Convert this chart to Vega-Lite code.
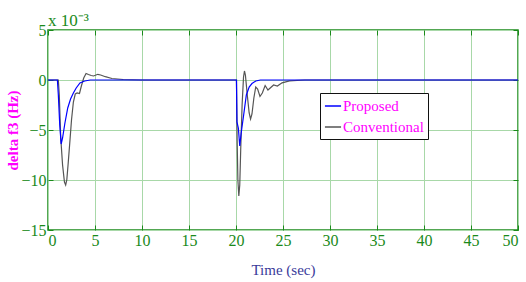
{
  "$schema": "https://vega.github.io/schema/vega-lite/v6.json",
  "width": 470,
  "height": 200,
  "autosize": "none",
  "padding": {"left": 48, "top": 30, "right": 8, "bottom": 52},
  "background": "white",
  "title": {"text": "x 10⁻³", "anchor": "start", "frame": "group", "font": "Liberation Serif", "fontSize": 17, "fontWeight": "normal", "color": "#1a8a1a", "offset": -8},
  "config": {
    "view": {"stroke": "#1a8a1a", "strokeWidth": 1.5},
    "axis": {"labelFont": "Liberation Serif", "labelFontSize": 16, "labelColor": "#1a8a1a", "titleFont": "Liberation Serif", "gridColor": "#a8d8a8", "gridOpacity": 1, "gridWidth": 1, "domain": false, "tickColor": "#1a8a1a", "tickSize": -5, "tickWidth": 1}
  },
  "data": {"values": [
    {"t": 0, "v": 0, "s": "Proposed"},
    {"t": 1.0, "v": 0, "s": "Proposed"},
    {"t": 1.1, "v": -1.5, "s": "Proposed"},
    {"t": 1.25, "v": -4.5, "s": "Proposed"},
    {"t": 1.4, "v": -6.4, "s": "Proposed"},
    {"t": 1.55, "v": -5.8, "s": "Proposed"},
    {"t": 1.8, "v": -4.3, "s": "Proposed"},
    {"t": 2.1, "v": -2.8, "s": "Proposed"},
    {"t": 2.4, "v": -1.9, "s": "Proposed"},
    {"t": 2.7, "v": -1.3, "s": "Proposed"},
    {"t": 3.0, "v": -0.8, "s": "Proposed"},
    {"t": 3.4, "v": -0.3, "s": "Proposed"},
    {"t": 3.9, "v": -0.1, "s": "Proposed"},
    {"t": 4.5, "v": 0, "s": "Proposed"},
    {"t": 20.05, "v": 0, "s": "Proposed"},
    {"t": 20.1, "v": -4.2, "s": "Proposed"},
    {"t": 20.25, "v": -4.8, "s": "Proposed"},
    {"t": 20.4, "v": -6.6, "s": "Proposed"},
    {"t": 20.55, "v": -5.3, "s": "Proposed"},
    {"t": 20.8, "v": -3.6, "s": "Proposed"},
    {"t": 21.1, "v": -1.5, "s": "Proposed"},
    {"t": 21.4, "v": -0.7, "s": "Proposed"},
    {"t": 21.7, "v": -0.35, "s": "Proposed"},
    {"t": 22.1, "v": -0.1, "s": "Proposed"},
    {"t": 22.6, "v": 0, "s": "Proposed"},
    {"t": 50, "v": 0, "s": "Proposed"},
    {"t": 0, "v": 0, "s": "Conventional"},
    {"t": 1.1, "v": 0, "s": "Conventional"},
    {"t": 1.2, "v": -1.5, "s": "Conventional"},
    {"t": 1.35, "v": -5.7, "s": "Conventional"},
    {"t": 1.55, "v": -8.5, "s": "Conventional"},
    {"t": 1.75, "v": -10.2, "s": "Conventional"},
    {"t": 1.88, "v": -10.5, "s": "Conventional"},
    {"t": 2.0, "v": -10.0, "s": "Conventional"},
    {"t": 2.15, "v": -8.3, "s": "Conventional"},
    {"t": 2.34, "v": -6.0, "s": "Conventional"},
    {"t": 2.5, "v": -4.0, "s": "Conventional"},
    {"t": 2.7, "v": -2.2, "s": "Conventional"},
    {"t": 2.9, "v": -1.4, "s": "Conventional"},
    {"t": 3.1, "v": -1.3, "s": "Conventional"},
    {"t": 3.35, "v": -1.35, "s": "Conventional"},
    {"t": 3.55, "v": -0.6, "s": "Conventional"},
    {"t": 3.8, "v": 0.2, "s": "Conventional"},
    {"t": 4.05, "v": 0.65, "s": "Conventional"},
    {"t": 4.3, "v": 0.55, "s": "Conventional"},
    {"t": 4.6, "v": 0.45, "s": "Conventional"},
    {"t": 4.85, "v": 0.4, "s": "Conventional"},
    {"t": 5.3, "v": 0.57, "s": "Conventional"},
    {"t": 5.6, "v": 0.5, "s": "Conventional"},
    {"t": 6.1, "v": 0.33, "s": "Conventional"},
    {"t": 6.8, "v": 0.15, "s": "Conventional"},
    {"t": 8, "v": 0.05, "s": "Conventional"},
    {"t": 10, "v": 0, "s": "Conventional"},
    {"t": 20.05, "v": 0, "s": "Conventional"},
    {"t": 20.12, "v": -6, "s": "Conventional"},
    {"t": 20.2, "v": -10, "s": "Conventional"},
    {"t": 20.3, "v": -11.6, "s": "Conventional"},
    {"t": 20.4, "v": -10.5, "s": "Conventional"},
    {"t": 20.5, "v": -7, "s": "Conventional"},
    {"t": 20.65, "v": -2.5, "s": "Conventional"},
    {"t": 20.8, "v": 0.3, "s": "Conventional"},
    {"t": 20.9, "v": 0.9, "s": "Conventional"},
    {"t": 21.0, "v": 0.5, "s": "Conventional"},
    {"t": 21.2, "v": -1.5, "s": "Conventional"},
    {"t": 21.4, "v": -3.3, "s": "Conventional"},
    {"t": 21.55, "v": -3.9, "s": "Conventional"},
    {"t": 21.7, "v": -3.4, "s": "Conventional"},
    {"t": 21.9, "v": -1.8, "s": "Conventional"},
    {"t": 22.1, "v": -0.7, "s": "Conventional"},
    {"t": 22.3, "v": -0.9, "s": "Conventional"},
    {"t": 22.55, "v": -1.65, "s": "Conventional"},
    {"t": 22.8, "v": -1.3, "s": "Conventional"},
    {"t": 23.1, "v": -0.55, "s": "Conventional"},
    {"t": 23.4, "v": -1.0, "s": "Conventional"},
    {"t": 23.7, "v": -0.75, "s": "Conventional"},
    {"t": 24.0, "v": -0.5, "s": "Conventional"},
    {"t": 24.4, "v": -0.6, "s": "Conventional"},
    {"t": 24.9, "v": -0.28, "s": "Conventional"},
    {"t": 25.7, "v": -0.08, "s": "Conventional"},
    {"t": 27.3, "v": 0, "s": "Conventional"},
    {"t": 50, "v": 0, "s": "Conventional"}
  ]},
  "layer": [
    {
      "transform": [{"filter": "datum.s === 'Conventional'"}],
      "mark": {"type": "line", "strokeWidth": 1.2, "clip": true},
      "encoding": {
        "x": {"field": "t", "type": "quantitative", "scale": {"domain": [0, 50], "nice": false}, "axis": {"orient": "bottom", "values": [0,5,10,15,20,25,30,35,40,45,50], "title": "Time (sec)", "titleColor": "#3a3a9a", "titleFontSize": 15, "titleFontWeight": "normal", "titlePadding": 14, "labelPadding": 7}},
        "y": {"field": "v", "type": "quantitative", "scale": {"domain": [-15, 5], "nice": false}, "axis": {"orient": "left", "values": [-15,-10,-5,0,5], "title": "delta f3 (Hz)", "titleColor": "#ff00ff", "titleFontSize": 15, "titleFontWeight": "bold", "titlePadding": 0, "labelPadding": 7}},
        "color": {"field": "s", "type": "nominal", "scale": {"domain": ["Proposed", "Conventional"], "range": ["#0000ff", "#555555"]},
          "legend": {"title": null, "orient": "none", "legendX": 272, "legendY": 63, "symbolType": "stroke", "symbolSize": 260, "symbolStrokeWidth": 1.5, "labelFont": "Liberation Serif", "labelFontSize": 15, "labelColor": "#ff00ff", "strokeColor": "#111111", "fillColor": "white", "padding": 4, "rowPadding": 4, "labelOffset": 1}}
      }
    },
    {
      "transform": [{"filter": "datum.s === 'Proposed'"}],
      "mark": {"type": "line", "strokeWidth": 1.2, "clip": true},
      "encoding": {
        "x": {"field": "t", "type": "quantitative", "axis": {"orient": "top", "values": [0,5,10,15,20,25,30,35,40,45,50], "labels": false, "grid": false, "title": null}},
        "y": {"field": "v", "type": "quantitative", "axis": {"orient": "right", "values": [-15,-10,-5,0,5], "labels": false, "grid": false, "title": null}},
        "color": {"field": "s", "type": "nominal"}
      }
    }
  ],
  "resolve": {"axis": {"x": "independent", "y": "independent"}}
}
